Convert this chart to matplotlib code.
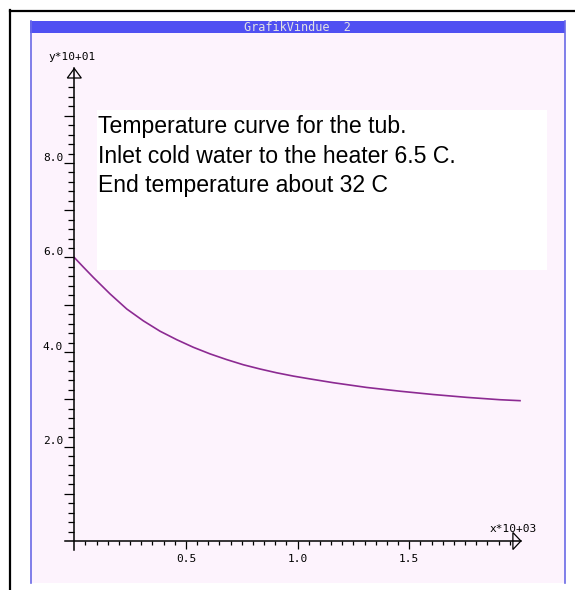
import matplotlib
matplotlib.use("Agg")
import matplotlib.pyplot as plt
from matplotlib.lines import Line2D
from matplotlib.patches import Rectangle, Polygon

# tub temperature (time in s, temperature in C)
time_s = [0, 40, 85, 160, 235, 309, 384, 459, 533, 608, 682, 757, 832,
          906, 981, 1056, 1160, 1309, 1459, 1608, 1757, 1906, 1996]
temp_c = [60.0, 58.0, 55.8, 52.3, 49.1, 46.6, 44.4, 42.6, 41.0, 39.6, 38.4,
          37.3, 36.4, 35.6, 34.9, 34.3, 33.5, 32.5, 31.7, 31.0, 30.4, 29.9, 29.7]

x_major = [500, 1000, 1500]
x_major_labels = ["0.5", "1.0", "1.5"]
x_minor = list(range(50, 1951, 50))
y_major = [10, 20, 30, 40, 50, 60, 70, 80, 90]
y_major_labels = ["", "2.0", "", "4.0", "", "6.0", "", "8.0", ""]
y_minor = list(range(2, 97, 2))

note_lines = [
    "Temperature curve for the tub.",
    "Inlet cold water to the heater 6.5 C.",
    "End temperature about 32 C",
]

PINK = "#fdf3fd"
BLUE = "#5050f2"
CURVE = "#8c2a92"

plt.rcParams["font.family"] = ["DejaVu Sans Mono"]

W, H = 575, 590
fig = plt.figure(figsize=(W / 100, H / 100), dpi=100)


def fx(p):
    return p / W


def fy(p):
    return 1 - p / H


# window decoration
fig.add_artist(Rectangle((fx(30), fy(583)), fx(565) - fx(30), fy(21) - fy(583),
                         transform=fig.transFigure, facecolor=PINK,
                         edgecolor="none", zorder=-3))
fig.add_artist(Rectangle((fx(30), fy(33)), fx(565) - fx(30), fy(21) - fy(33),
                         transform=fig.transFigure, facecolor=BLUE,
                         edgecolor="none", zorder=-2))
for xp in (30.5, 565):
    fig.add_artist(Line2D([fx(xp), fx(xp)], [fy(21), fy(583)],
                          transform=fig.transFigure, color="#6a6ae6",
                          lw=1.2, zorder=-2))
fig.add_artist(Line2D([fx(10), fx(10)], [fy(10), fy(590)],
                      transform=fig.transFigure, color="black", lw=1.6))
fig.add_artist(Line2D([fx(10), fx(575)], [fy(10.5), fy(10.5)],
                      transform=fig.transFigure, color="black", lw=1.6))
fig.text(fx(297), fy(27.5), "GrafikVindue  2", color="#e2e2e2", fontsize=8.5,
         ha="center", va="center")

# note box
fig.add_artist(Rectangle((fx(97), fy(270)), fx(547) - fx(97), fy(110) - fy(270),
                         transform=fig.transFigure, facecolor="white",
                         edgecolor="none", zorder=-1))
for i, line in enumerate(note_lines):
    fig.text(fx(98), fy(133.5 + 29.3 * i), line, fontsize=16.6,
             family=["Liberation Sans", "DejaVu Sans"], va="baseline", ha="left")

# plot area: x 0..2000 -> px 74.3..520.9, y 0..100 -> px 541..68.5
ax = fig.add_axes([fx(74.3), fy(541), 446.6 / W, 472.5 / H])
ax.set_facecolor("none")
ax.set_xlim(0, 2000)
ax.set_ylim(0, 100)
for sp in ax.spines.values():
    sp.set_visible(False)

px = 2000 / 446.6
py = 100 / 472.5

ax.plot(time_s, temp_c, color=CURVE, lw=1.2, solid_joinstyle="round")

# axes with arrow heads
ax.plot([0, 0], [-9 * py, 100], color="black", lw=1.1, clip_on=False)
ax.plot([-9 * px, 2000], [0, 0], color="black", lw=1.1, clip_on=False)
ax.add_patch(Polygon([(-7 * px, 100 - 9.5 * py), (0, 100), (7 * px, 100 - 9.5 * py)],
                     closed=True, fill=False, ec="black", lw=0.9, clip_on=False))
ax.add_patch(Polygon([(2000 - 8 * px, 8.5 * py), (2000, 0), (2000 - 8 * px, -8.5 * py)],
                     closed=True, fill=False, ec="black", lw=0.9, clip_on=False))

ax.set_xticks(x_major, labels=x_major_labels)
ax.set_xticks(x_minor, minor=True)
ax.set_yticks(y_major, labels=y_major_labels)
ax.set_yticks(y_minor, minor=True)
ax.tick_params(axis="x", which="major", direction="out", length=8 * 0.72,
               width=0.9, pad=3.5, labelsize=8)
ax.tick_params(axis="x", which="minor", direction="out", length=4 * 0.72, width=0.9)
ax.tick_params(axis="y", which="major", direction="out", length=10.5 * 0.72,
               width=0.9, pad=0.5, labelsize=8)
ax.tick_params(axis="y", which="minor", direction="out", length=6 * 0.72, width=0.9)
for lab in ax.get_yticklabels():
    lab.set_verticalalignment("bottom")

fig.text(fx(72), fy(56.5), "y*10+01", fontsize=8, ha="center", va="center")
fig.text(fx(513), fy(529), "x*10+03", fontsize=8, ha="center", va="center")

fig.savefig("out.png", dpi=100)
